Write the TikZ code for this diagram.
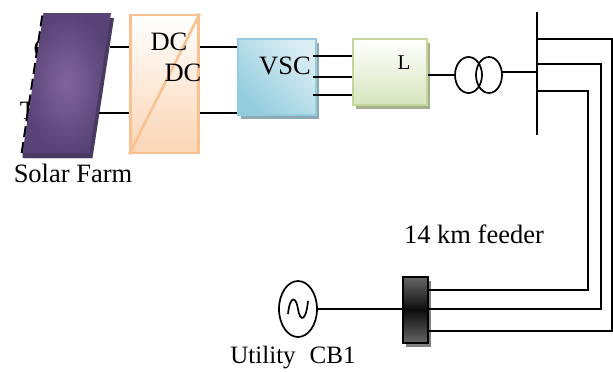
\documentclass[tikz,border=0pt]{standalone}
\usepackage{fontspec}
\setmainfont{Liberation Serif}
\usetikzlibrary{positioning, shapes.geometric, shadows, calc}
\definecolor{panelin}{HTML}{80659B}
\definecolor{panelout}{HTML}{584276}
\definecolor{panelback}{HTML}{483A60}
\definecolor{dcline}{HTML}{FAC090}
\definecolor{dcfill}{HTML}{FBD5B5}
\definecolor{vscline}{HTML}{93CDDD}
\definecolor{vscfill}{HTML}{DBEEF4}
\definecolor{vscback}{HTML}{8CA9B5}
\definecolor{filterline}{HTML}{C3D69B}
\definecolor{filterfill}{HTML}{D7E4BD}
\definecolor{filterback}{HTML}{A6AE8E}

\begin{document}
\begin{tikzpicture}[x=1pt,y=-1pt,line width=1.7pt,on grid,
    box/.style={rectangle,draw,line width=2.5pt,inner sep=0pt},
    backed/.style={drop shadow={shadow xshift=3pt,shadow yshift=-4pt,fill=#1,opacity=1}},
    label/.style={font=\fontsize{26.5}{28}\selectfont,inner sep=0pt},
    small/.style={font=\fontsize{21}{24}\selectfont,inner sep=0pt}]
    \useasboundingbox (0,0) rectangle (613,372);
    % text fragments behind the panel
    \node[label] (frag1) at (42.5,49) {C};
    \node[label] (frag2) at (28,111) {T};
    \coordinate (pa) at (43.5,13);
    \coordinate (pb) at (111,13);
    \coordinate (pc) at (89.5,153);
    \coordinate (pd) at (22.5,153);
    \draw[line width=2.6pt,dash pattern=on 11pt off 5pt] ([xshift=-0.5pt]pd) -- ([xshift=-0.5pt]pa);
    \fill[panelback] ([shift={(3,5)}]pa) -- ([shift={(3,5)}]pb) -- ([shift={(3,5)}]pc) -- ([shift={(3,5)}]pd) -- cycle;
    \fill[panelback] (pd) -- ([shift={(0,5)}]pd) -- ([shift={(3,5)}]pc) -- (pc) -- cycle;
    \shade[inner color=panelin,outer color=panelout] (pa) -- (pb) -- (pc) -- (pd) -- cycle;
    \node[label] (solar) at (73,173) {Solar Farm};

    \node[box,draw=dcline,minimum width=68pt,minimum height=138pt,
      top color=white,bottom color=dcfill] (dcdc) at (164.5,84) {};
    \draw[dcline,line width=2.5pt] (dcdc.south west) -- (dcdc.north east);
    \node[label] (dc1) at (169,42) {DC};
    \node[label] (dc2) at (183,73) {DC};

    \node[box,draw=vscline,minimum width=78pt,minimum height=76pt,
      left color=vscline,right color=vscfill,shading angle=135,
      backed=vscback] (vsc) [right=112.5pt of dcdc,yshift=7pt] {};
    \node[label] (vsclabel) at (285,66) {VSC};

    \node[box,draw=filterline,minimum width=74pt,minimum height=66pt,
      top color=white,bottom color=filterfill,
      backed=filterback] (filter) [right=113pt of vsc,yshift=5pt] {};
    \node[small] (llabel) at (404,63) {L};

    \node[ellipse,draw,minimum width=27pt,minimum height=36pt,inner sep=0pt] (tr1) at (468.5,75) {};
    \node[ellipse,draw,minimum width=26pt,minimum height=36pt,inner sep=0pt] (tr2) [right=20.5pt of tr1] {};

    \coordinate (bustop) at (537,12);
    \coordinate (busbot) at (537,135);
    \draw (bustop) -- (busbot);

    \node[box,draw=black,line width=2pt,minimum width=25pt,minimum height=66pt,
      top color=black!60,bottom color=black!60,middle color=black!95,
      backed={black!50}] (cb) at (415,310) {};
    \node[ellipse,draw,minimum width=38pt,minimum height=56pt,inner sep=0pt] (util) at (298,309) {};
    \draw (288,314) .. controls (290,295) and (296,296) .. (298,309)
      .. controls (300,322) and (306,322) .. (308,301);

    \node[label] (feeder) at (474,234) {14 km feeder};
    \node[label,font=\fontsize{25}{28}\selectfont] (utillabel) at (293,358) {Utility\hspace{14pt}CB1};

    % connectors
    \coordinate (pv1) at (110,47);
    \coordinate (pv2) at (99,113);
    \draw (pv1) -- (dcdc.west |- pv1);
    \draw (pv2) -- (dcdc.west |- pv2);
    \draw (dcdc.east |- pv1) -- (vsc.west |- pv1);
    \draw (dcdc.east |- pv2) -- (vsc.west |- pv2);
    \foreach \yy in {56,77,95}
      \draw (313,\yy) coordinate (ph) -- (filter.west |- ph);
    \coordinate (lout) at (428,75);
    \draw (lout) -- (tr1.west);
    \coordinate (trout) at (502,72);
    \draw (trout) -- (bustop |- trout);
    \draw (util.east) -- (cb.west |- util.east);

    \coordinate (f1) at (612,39);
    \coordinate (f2) at (601,64);
    \coordinate (f3) at (588,91);
    \coordinate (g1) at (612,331);
    \coordinate (g2) at (601,309);
    \coordinate (g3) at (588,290);
    \draw (bustop |- f1) -- (f1) -- (g1) -- (cb.east |- g1);
    \draw (bustop |- f2) -- (f2) -- (g2) -- (cb.east |- g2);
    \draw (bustop |- f3) -- (f3) -- (g3) -- (cb.east |- g3);
  \end{tikzpicture}
\end{document}
